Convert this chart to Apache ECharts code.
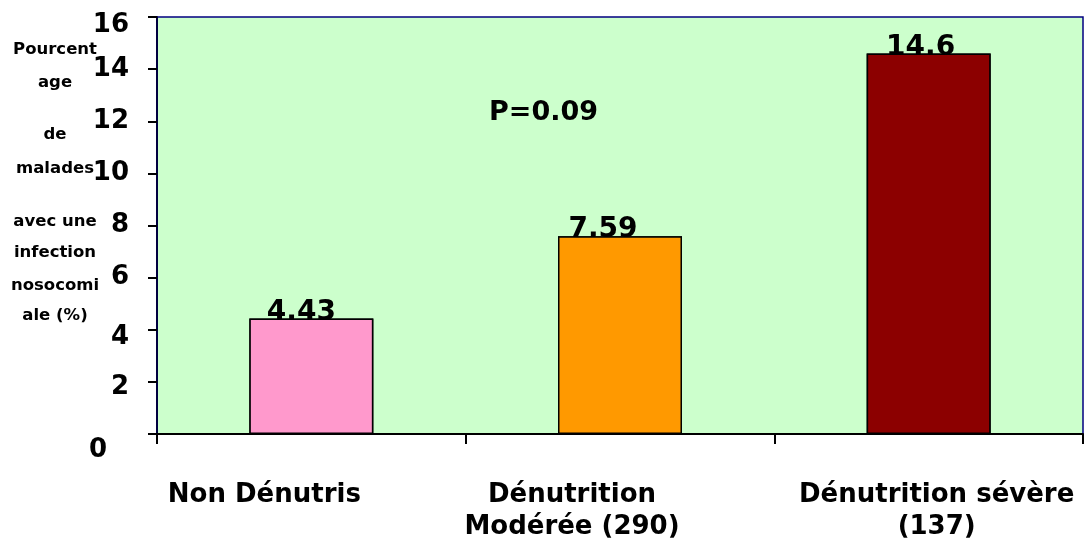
<!DOCTYPE html>
<html>
<head>
<meta charset="utf-8">
<script src="https://cdn.jsdelivr.net/npm/echarts@6/dist/echarts.min.js"></script>
<style>html,body{margin:0;padding:0;background:#fff;}#c{width:1085px;height:551px;}</style>
</head>
<body>
<div id="c"></div>
<script>
const categories = ['Non Dénutris', 'Dénutrition\nModérée (290)', 'Dénutrition sévère\n(137)'];
const values = [4.43, 7.59, 14.6];
const yMin = 0, yMax = 16, yStep = 2;
const annotation = 'P=0.09';
const yTitleLines = ['Pourcent', 'age', 'de', 'malades', 'avec une', 'infection', 'nosocomi', 'ale (%)'];

const barColors = ['#FF99CC', '#FF9900', '#8C0000'];
const FONT = 'DejaVu Sans';
const titleY = [50, 83, 135, 169, 222, 253, 286, 316];
const labelShift = [-10, -17, -8];

const chart = echarts.init(document.getElementById('c'));

const graphics = yTitleLines.map((t, i) => ({
  type: 'text', x: 55, y: titleY[i],
  style: { text: t, textAlign: 'center', textVerticalAlign: 'middle',
    font: 'bold 16.5px "' + FONT + '"', fill: '#000' }
}));
graphics.push({ type: 'text', x: 489, y: 113,
  style: { text: annotation, textAlign: 'left', textVerticalAlign: 'middle',
    font: 'bold 27px "' + FONT + '"', fill: '#000' } });

const xRich = {
  c0: { padding: [0, 94, 0, 0] },
  c1: { padding: [0, 96, 0, 0] },
  c2: { padding: [0, 0, 0, 16] }
};
Object.values(xRich).forEach(r => { r.fontFamily = FONT; r.fontWeight = 'bold'; r.fontSize = 26; r.color = '#000'; r.lineHeight = 32; });

const yRich = {
  n: {},
  d16: { padding: [16, 0, 0, 0] },
  d4: { padding: [14, 0, 0, 0] },
  d2: { padding: [10, 0, 0, 0] },
  d0: { padding: [32, 22, 0, 0] }
};
Object.values(yRich).forEach(r => { r.fontFamily = FONT; r.fontWeight = 'bold'; r.fontSize = 26; r.color = '#000'; });

chart.setOption({
  animation: false,
  graphic: graphics,
  grid: { left: 157, right: 2, top: 17, bottom: 117, show: true,
    backgroundColor: '#CCFFCC', borderColor: '#000080', borderWidth: 1.5 },
  xAxis: {
    type: 'category', data: categories,
    axisLine: { lineStyle: { color: '#000', width: 2 } },
    axisTick: { show: true, length: 10, lineStyle: { color: '#000', width: 2 } },
    axisLabel: {
      margin: 45, interval: 0,
      formatter: (v, i) => v.split('\n').map(l => '{c' + i + '|' + l + '}').join('\n'),
      rich: xRich
    }
  },
  yAxis: {
    type: 'value', min: yMin, max: yMax, interval: yStep,
    splitLine: { show: false },
    axisLine: { show: true, lineStyle: { color: '#000040', width: 2 } },
    axisTick: { show: true, length: 9, lineStyle: { color: '#000', width: 2 } },
    axisLabel: {
      margin: 28,
      formatter: v => { const k = yRich['d' + v] ? 'd' + v : 'n'; return '{' + k + '|' + v + '}'; },
      rich: yRich
    }
  },
  series: [
    {
      type: 'bar', z: 2, barWidth: 124,
      data: values.map((v, i) => ({ value: v, label: { offset: [labelShift[i], 0] } })),
      itemStyle: { color: p => barColors[p.dataIndex], borderColor: '#000', borderWidth: 1.5 },
      label: { show: true, position: 'top', distance: -8,
        formatter: p => String(p.value).replace('.', ','),
        fontFamily: FONT, fontWeight: 'bold', fontSize: 28, color: '#000' }
    },
    {
      type: 'bar', z: 3, barWidth: 124, barGap: '-100%',
      data: values,
      itemStyle: { color: p => barColors[p.dataIndex], borderColor: '#000', borderWidth: 1.5 }
    }
  ]
});
</script>
</body>
</html>
